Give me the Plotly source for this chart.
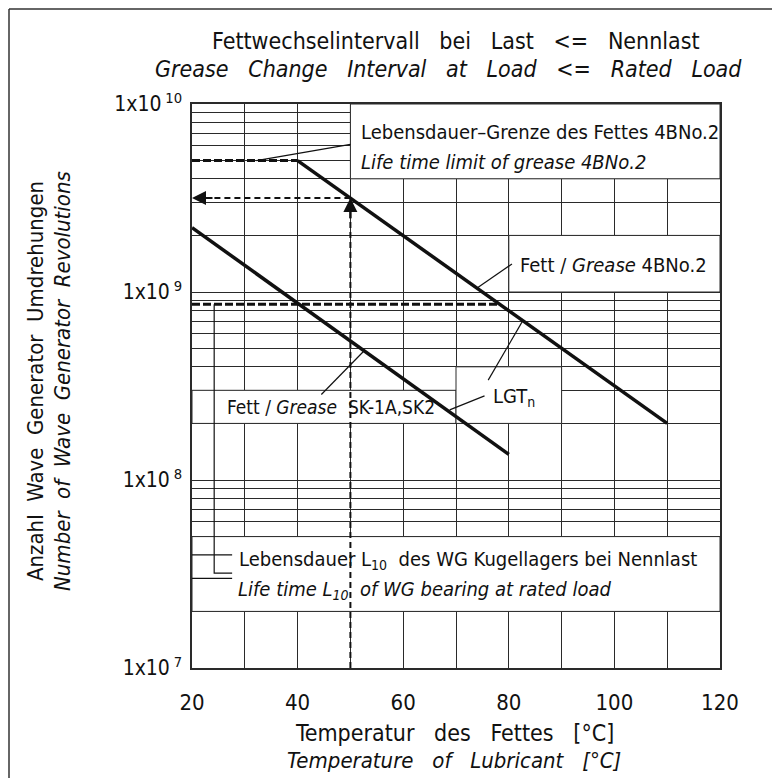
import plotly.graph_objects as go
import math

# ---------------- data ----------------
temp_4bno2 = [40, 110]
rev_4bno2 = [5.0e9, 2.0e8]

temp_sk = [20, 80]
rev_sk = [2.2e9, 1.37e8]

limit_temp = [20, 40]
limit_rev = [5.0e9, 5.0e9]

l10_temp = [20, 78.3]
l10_rev = [8.6e8, 8.6e8]

example_temp = 50
example_rev = 3.16e9

x_tick_vals = [20, 40, 60, 80, 100, 120]
x_tick_text = ["20", "40", "60", "80", "100", "120"]
x_minor_vals = [30, 50, 70, 90, 110]

y_decades = [7, 8, 9, 10]
y_tick_vals = [10 ** d for d in y_decades]
y_tick_text = ["1x10\u2009<sup>%d</sup>" % d for d in y_decades]
y_minor_vals = [k * 10 ** d for d in [7, 8, 9] for k in range(2, 10)]

# leader lines (temperature, revolutions)
leader_limit_t = [32.2, 50.0]
leader_limit_r = [5.0e9, 6.1e9]
leader_4b_t = [74.0, 80.6]
leader_4b_r = [1.05e9, 1.41e9]
leader_sk_t = [44.5, 52.7]
leader_sk_r = [2.85e8, 4.9e8]
leader_lgt1_t = [76.1, 82.6]
leader_lgt1_r = [3.4e8, 7.0e8]
leader_lgt2_t = [75.4, 68.8]
leader_lgt2_r = [2.8e8, 2.36e8]
leader_l10_t = [24.2, 24.2, 27.6]
leader_l10_r = [8.6e8, 3.2e7, 3.2e7]
stub_t = [20, 27.6]
stub_4e7 = [4e7, 4e7]
stub_3e7 = [3e7, 3e7]

# white label boxes (x0, x1, y0, y1)
boxes = [
    (50, 120, 4e9, 1e10),
    (80, 120, 1e9, 2e9),
    (20, 70, 2e8, 3e8),
    (70, 90, 2e8, 4e8),
    (20, 120, 2e7, 5e7),
]

FONT = "Liberation Sans Narrow, DejaVu Sans Condensed, Liberation Sans, Arial, sans-serif"
INK = "#111111"
GRID = "#2a2a2a"

W, H = 772, 778
PL, PR, PT, PB = 192, 720, 104, 668


def px(x):
    return (x - PL) / (PR - PL)


def py(y):
    return (PB - y) / (PB - PT)


def ws(s, n=2):
    return s.replace(" ", "\u00a0" * n)


fig = go.Figure()

# white label boxes (cover the grid)
for (x0, x1, y0, y1) in boxes:
    fig.add_trace(go.Scatter(x=[x0, x1, x1, x0, x0], y=[y0, y0, y1, y1, y0], mode="lines",
                             fill="toself", fillcolor="white",
                             line=dict(color=GRID, width=1), hoverinfo="skip"))

line_main = dict(color=INK, width=3.5)
fig.add_trace(go.Scatter(x=temp_4bno2, y=rev_4bno2, mode="lines", line=line_main))
fig.add_trace(go.Scatter(x=temp_sk, y=rev_sk, mode="lines", line=line_main))

thick_dash = dict(color=INK, width=3, dash="8px,3px")
fig.add_trace(go.Scatter(x=limit_temp, y=limit_rev, mode="lines", line=thick_dash))
fig.add_trace(go.Scatter(x=l10_temp, y=l10_rev, mode="lines", line=thick_dash))

thin_dash = dict(color=INK, width=2, dash="6px,4px")
fig.add_trace(go.Scatter(x=[example_temp, 20], y=[example_rev, example_rev], mode="lines", line=thin_dash))
fig.add_trace(go.Scatter(x=[example_temp, example_temp], y=[1e7, example_rev], mode="lines", line=thin_dash))

thin = dict(color=INK, width=1.2)
for lt, lr in [
    (leader_limit_t, leader_limit_r),
    (leader_4b_t, leader_4b_r),
    (leader_sk_t, leader_sk_r),
    (leader_lgt1_t, leader_lgt1_r),
    (leader_lgt2_t, leader_lgt2_r),
    (leader_l10_t, leader_l10_r),
    (stub_t, stub_4e7),
    (stub_t, stub_3e7),
]:
    fig.add_trace(go.Scatter(x=lt, y=lr, mode="lines", line=thin))

# arrowheads
fig.add_annotation(x=20, y=math.log10(example_rev), xref="x", yref="y", ax=22, ay=0,
                   showarrow=True, arrowhead=2, arrowsize=1.4, arrowwidth=2, arrowcolor=INK, text="")
fig.add_annotation(x=example_temp, y=math.log10(example_rev), xref="x", yref="y", ax=0, ay=22,
                   showarrow=True, arrowhead=2, arrowsize=1.4, arrowwidth=2, arrowcolor=INK, text="")


def label(text, x, y, xref="x", yref="y", xanchor="left", size=20, angle=0):
    fig.add_annotation(text=text, x=x, y=y, xref=xref, yref=yref, xanchor=xanchor,
                       yanchor="middle", showarrow=False, textangle=angle,
                       font=dict(family=FONT, size=size, color=INK))


label("Lebensdauer–Grenze des Fettes 4BNo.2", 51.7, 9.851)
label("<i>Life time limit of grease 4BNo.2</i>", 51.7, 9.691)
label("Fett / <i>Grease</i> 4BNo.2", 81.8, 9.144)
label("Fett / <i>Grease</i>\u00a0 SK-1A,SK2", 26.2, 8.388, size=19)
label("LGT<sub>n</sub>", 76.7, 8.44)
label("Lebensdauer L<sub>10</sub>\u00a0 des WG Kugellagers bei Nennlast", 28.6, 7.575)
label("<i>Life time L<sub>10</sub>\u00a0 of WG bearing at rated load</i>", 28.4, 7.414)

# titles
label(ws("Fettwechselintervall bei Last <= Nennlast", 3), px(456), py(41), "paper", "paper", "center", 23)
label("<i>" + ws("Grease Change Interval at Load <= Rated Load", 3) + "</i>", px(448), py(69), "paper", "paper", "center", 23)
label(ws("Temperatur des Fettes [°C]", 3), px(454), py(733), "paper", "paper", "center", 23)
label("<i>" + ws("Temperature of Lubricant [°C]", 3) + "</i>", px(454), py(760), "paper", "paper", "center", 22)
label(ws("Anzahl Wave Generator Umdrehungen", 2), px(35), py(381), "paper", "paper", "center", 22, -90)
label("<i>" + ws("Number of Wave Generator Revolutions", 2) + "</i>", px(62), py(381), "paper", "paper", "center", 22, -90)

# outer frame (top and left edges)
fig.add_shape(type="line", xref="paper", yref="paper", x0=px(9), x1=px(W + 5), y0=py(9), y1=py(9),
              line=dict(color="#333333", width=1.5))
fig.add_shape(type="line", xref="paper", yref="paper", x0=px(9), x1=px(9), y0=py(9), y1=py(H + 5),
              line=dict(color="#333333", width=1.5))

fig.update_layout(
    width=W, height=H,
    margin=dict(l=PL, r=W - PR, t=PT, b=H - PB, pad=0),
    paper_bgcolor="white", plot_bgcolor="white",
    showlegend=False,
    hovermode=False,
    font=dict(family=FONT, size=22, color=INK),
)
fig.update_xaxes(range=[20, 120], tickmode="array", tickvals=x_tick_vals, ticktext=x_tick_text,
                 showgrid=True, gridcolor=GRID, gridwidth=1, zeroline=False,
                 minor=dict(tickmode="array", tickvals=x_minor_vals, showgrid=True, gridcolor=GRID, gridwidth=1, ticks=""),
                 showline=True, mirror=True, linecolor=GRID, linewidth=1.5,
                 ticks="", ticklabelstandoff=14,
                 tickfont=dict(family=FONT, size=22, color=INK))
fig.update_yaxes(type="log", range=[7, 10], tickmode="array", tickvals=y_tick_vals, ticktext=y_tick_text,
                 showgrid=True, gridcolor=GRID, gridwidth=1, zeroline=False,
                 minor=dict(tickmode="array", tickvals=y_minor_vals, showgrid=True, gridcolor=GRID, gridwidth=1, ticks=""),
                 showline=True, mirror=True, linecolor=GRID, linewidth=1.5,
                 ticks="", ticklabelstandoff=4,
                 tickfont=dict(family=FONT, size=21, color=INK))

fig.write_html("out.html", config={"displayModeBar": False},
               post_script="document.body.style.margin='0';document.body.style.overflow='hidden';")
